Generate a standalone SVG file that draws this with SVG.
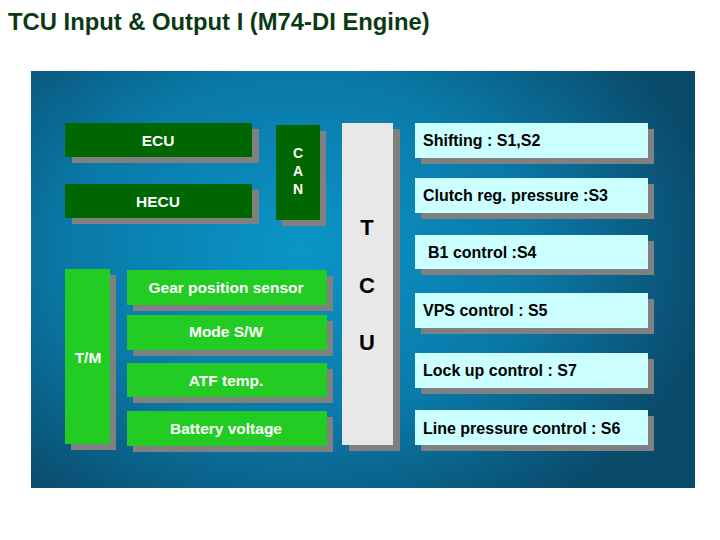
<svg xmlns="http://www.w3.org/2000/svg" width="720" height="540" viewBox="0 0 720 540">
<defs>
<radialGradient id="bg" cx="300" cy="250" r="420" gradientUnits="userSpaceOnUse" gradientTransform="translate(300 250) scale(1 0.75) translate(-300 -250)">
<stop offset="0" stop-color="#0a96c8"/>
<stop offset="0.55" stop-color="#0a79a8"/>
<stop offset="1" stop-color="#0a4a6a"/>
</radialGradient>
</defs>
<style>
.sh{fill:#808080}
.dg{fill:#006600}
.lg{fill:#22cc22}
.cy{fill:#ccffff}
.tc{fill:#e8e8e8}
text{font-family:"Liberation Sans",Arial,sans-serif;font-weight:bold}
.w{fill:#ffffff;font-size:15.5px;text-anchor:middle}
.c{fill:#ffffff;font-size:14px;text-anchor:middle}
.b{fill:#000000;font-size:16px}
.big{fill:#000000;font-size:22px;text-anchor:middle}
</style>
<rect width="720" height="540" fill="#ffffff"/>
<text x="8" y="30" font-size="23.8" fill="#0a3a12">TCU Input &amp; Output I (M74-DI Engine)</text>
<rect x="31" y="71" width="664" height="417" fill="url(#bg)"/>
<g id="connectors"/>
<g id="ecu"><rect class="sh" x="72" y="129" width="187" height="34"/><rect class="dg" x="65" y="123" width="187" height="34"/><text class="w" x="158" y="146">ECU</text></g>
<g id="hecu"><rect class="sh" x="72" y="190" width="187" height="34"/><rect class="dg" x="65" y="184" width="187" height="34"/><text class="w" x="158" y="207">HECU</text></g>
<g id="can"><rect class="sh" x="282" y="131" width="44" height="95"/><rect class="dg" x="276" y="125" width="44" height="95"/><text class="c" x="298" y="158">C</text><text class="c" x="298" y="176">A</text><text class="c" x="298" y="194">N</text></g>
<g id="tcu"><rect class="sh" x="349" y="129" width="51" height="322"/><rect class="tc" x="342" y="123" width="51" height="322"/><text class="big" x="367" y="235">T</text><text class="big" x="367" y="293">C</text><text class="big" x="367" y="350">U</text></g>
<g id="tm"><rect class="sh" x="71" y="275" width="45" height="175"/><rect class="lg" x="65" y="269" width="45" height="175"/><text class="w" x="88" y="363">T/M</text></g>
<g id="gear"><rect class="sh" x="133" y="276" width="200" height="35"/><rect class="lg" x="127" y="270" width="200" height="35"/><text class="w" x="226" y="293">Gear position sensor</text></g>
<g id="mode"><rect class="sh" x="133" y="321" width="200" height="35"/><rect class="lg" x="127" y="315" width="200" height="35"/><text class="w" x="226" y="337">Mode S/W</text></g>
<g id="atf"><rect class="sh" x="133" y="369" width="200" height="34"/><rect class="lg" x="127" y="363" width="200" height="34"/><text class="w" x="226" y="386">ATF temp.</text></g>
<g id="battery"><rect class="sh" x="133" y="417" width="200" height="35"/><rect class="lg" x="127" y="411" width="200" height="35"/><text class="w" x="226" y="434">Battery voltage</text></g>
<g id="shifting"><rect class="sh" x="421" y="129" width="233" height="35"/><rect class="cy" x="415" y="123" width="233" height="35"/><text class="b" x="423" y="146">Shifting : S1,S2</text></g>
<g id="clutch"><rect class="sh" x="421" y="184" width="233" height="35"/><rect class="cy" x="415" y="178" width="233" height="35"/><text class="b" x="423" y="201">Clutch reg. pressure :S3</text></g>
<g id="b1"><rect class="sh" x="421" y="241" width="233" height="34"/><rect class="cy" x="415" y="235" width="233" height="34"/><text class="b" x="428" y="258">B1 control :S4</text></g>
<g id="vps"><rect class="sh" x="421" y="299" width="233" height="35"/><rect class="cy" x="415" y="293" width="233" height="35"/><text class="b" x="423" y="316">VPS control : S5</text></g>
<g id="lockup"><rect class="sh" x="421" y="359" width="233" height="35"/><rect class="cy" x="415" y="353" width="233" height="35"/><text class="b" x="423" y="376">Lock up control : S7</text></g>
<g id="line"><rect class="sh" x="421" y="416" width="233" height="35"/><rect class="cy" x="415" y="410" width="233" height="35"/><text class="b" x="423" y="434">Line pressure control : S6</text></g>
</svg>
